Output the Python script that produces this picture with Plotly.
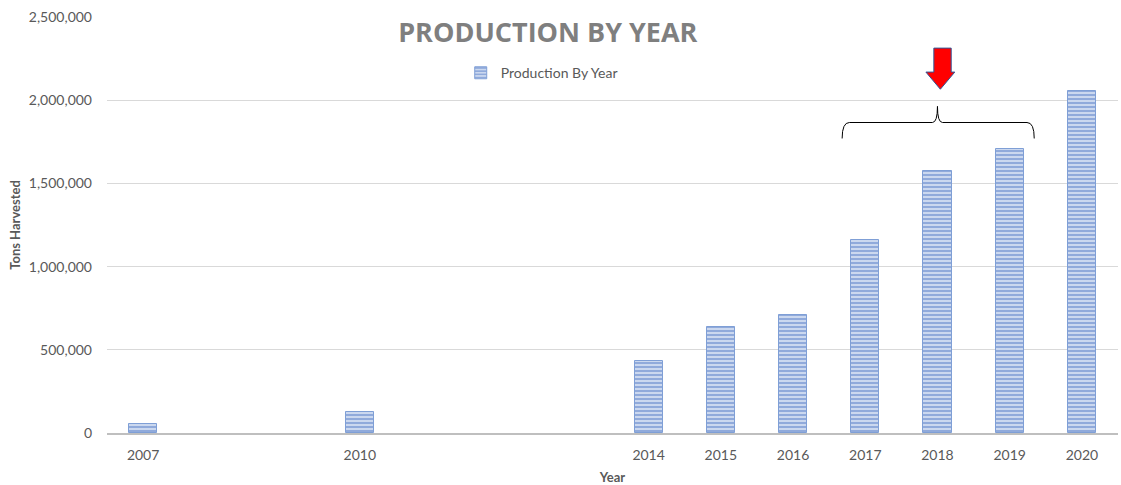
import plotly.graph_objects as go

# Annual harvest totals
years = [2007, 2010, 2014, 2015, 2016, 2017, 2018, 2019, 2020]
tons = [52000, 124000, 431000, 637000, 709000, 1160000, 1577000, 1705000, 2055000]
y_ticks = [0, 500000, 1000000, 1500000, 2000000, 2500000]

FONT = "Lato, 'Open Sans', sans-serif"
TXT = "#595959"

fig = go.Figure()
fig.add_trace(go.Bar(
    x=years,
    y=tons,
    name="Production By Year",
    width=0.39,
    marker=dict(
        color="#e4ebf7",
        line=dict(color="#7f9fd6", width=1),
        pattern=dict(shape="-", fgcolor="#3b69c0", size=4, solidity=0.65),
    ),
))

# Red call-out arrow above 2018, drawn in axis units
arrow = ("M 2017.95 2313000 L 2018.19 2313000 L 2018.19 2169000 L 2018.24 2169000 "
         "L 2018.04 2066000 L 2017.84 2169000 L 2017.95 2169000 Z")
fig.add_shape(type="path", path=arrow, xref="x", yref="y",
              fillcolor="#ff0000", line=dict(color="#2f5597", width=1))

# Curly brace spanning 2017-2019
brace = ("M 2016.68 1770000 Q 2016.68 1866000 2016.78 1866000 "
         "L 2017.93 1866000 Q 2018.0 1866000 2018.0 1963000 "
         "Q 2018.0 1866000 2018.07 1866000 "
         "L 2019.24 1866000 Q 2019.34 1866000 2019.34 1770000")
fig.add_shape(type="path", path=brace, xref="x", yref="y",
              line=dict(color="#000000", width=1))

fig.update_layout(
    width=1121,
    height=485,
    margin=dict(l=107, r=3, t=17, b=52, autoexpand=False),
    paper_bgcolor="white",
    plot_bgcolor="white",
    font=dict(family=FONT, size=14, color=TXT),
    title=dict(
        text="<b>PRODUCTION BY YEAR</b>",
        font=dict(family="'Open Sans', sans-serif", size=27, color="#7f7f7f"),
        x=0.436, xref="paper", xanchor="center",
        y=1 - 33 / 485, yref="container", yanchor="middle",
    ),
    showlegend=True,
    legend=dict(
        orientation="h",
        x=0.43, xanchor="center",
        y=0.865, yanchor="middle",
        bgcolor="rgba(0,0,0,0)",
        font=dict(family=FONT, size=14, color=TXT),
    ),
    bargap=0,
)

fig.update_xaxes(
    range=[2006.5, 2020.5],
    tickmode="array",
    tickvals=years,
    ticktext=[str(y) for y in years],
    showgrid=False,
    zeroline=False,
    showline=True,
    linecolor="#bfbfbf",
    linewidth=1.5,
    ticks="",
    ticklabelstandoff=8,
    tickfont=dict(size=14, color=TXT),
    automargin=False,
    title=dict(text="<b>Year</b>", font=dict(size=13, color=TXT), standoff=12),
)

fig.update_yaxes(
    range=[0, 2500000],
    tickmode="array",
    tickvals=y_ticks,
    tickformat=",",
    showgrid=True,
    gridcolor="#d9d9d9",
    gridwidth=1,
    zeroline=False,
    showline=False,
    ticks="",
    ticklabelstandoff=14,
    tickfont=dict(size=14, color=TXT),
    automargin=False,
    title=dict(text="<b>Tons Harvested</b>", font=dict(size=13, color=TXT), standoff=5),
)

fig.write_html("out.html")
